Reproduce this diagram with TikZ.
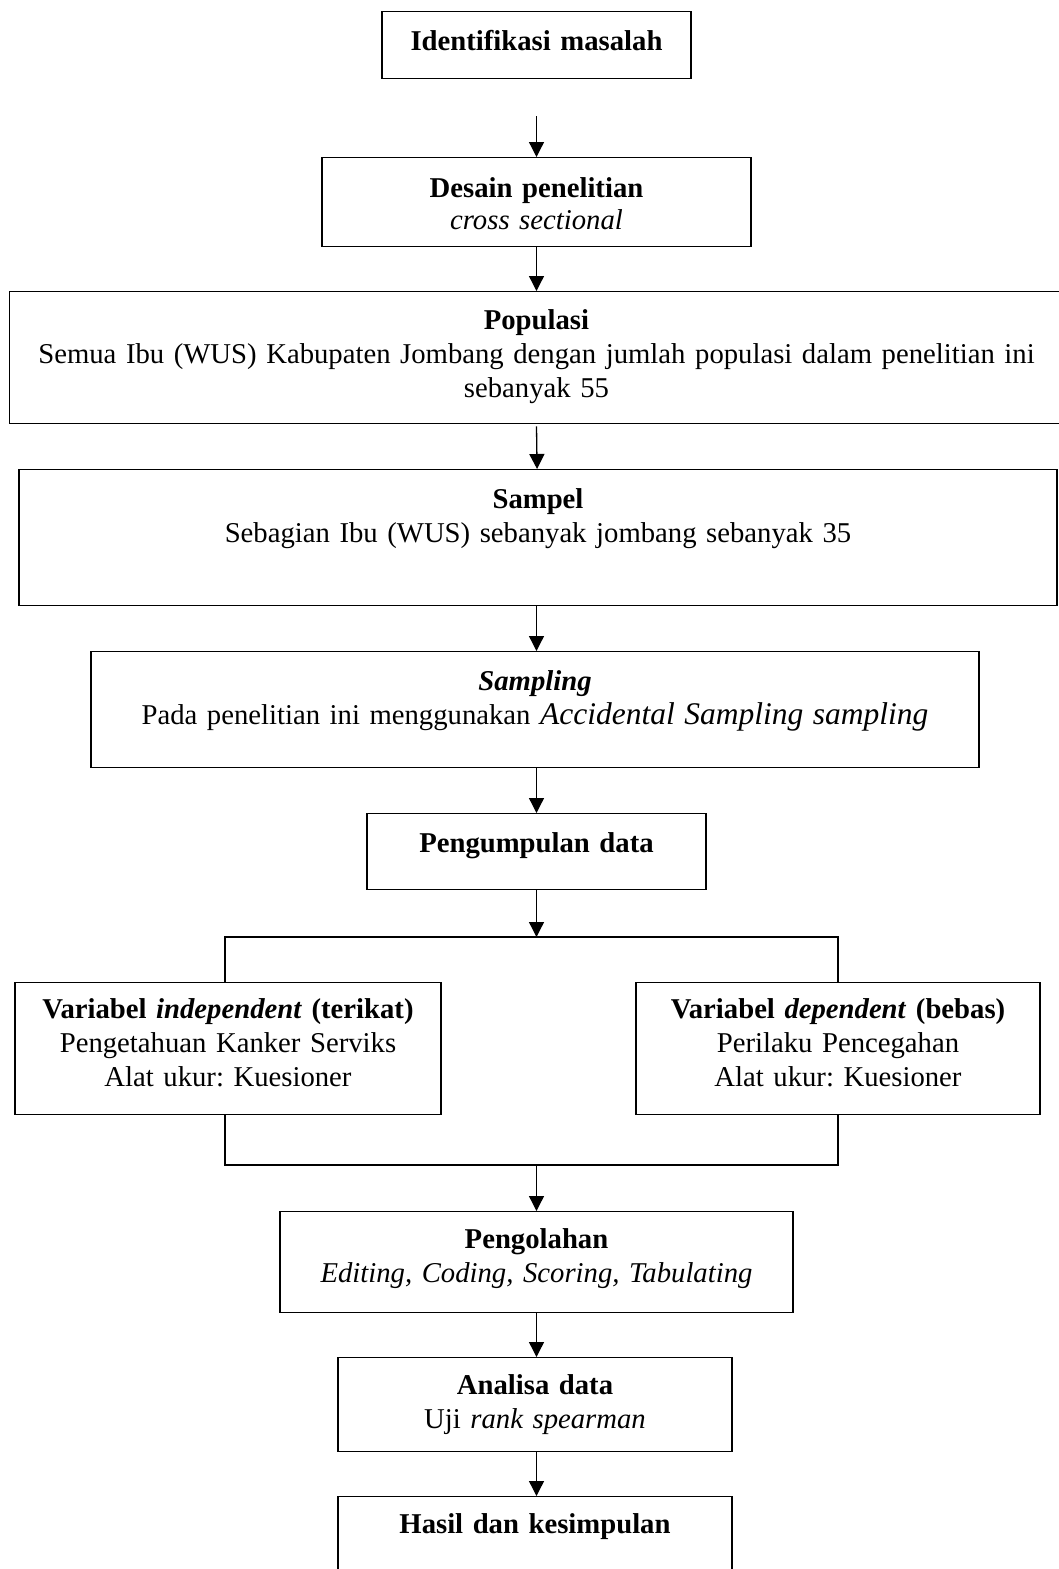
\documentclass[tikz,border=0pt]{standalone}
\usepackage{fontspec}
\setmainfont{Liberation Serif}
\usetikzlibrary{arrows.meta}

\newcommand{\jarakatas}[1]{\rule{0pt}{#1pt}}
\newcommand{\jarakbawah}[1]{\rule[-#1pt]{0pt}{#1pt}}
\frenchspacing

\begin{document}
\begin{tikzpicture}[x=1pt,y=-1pt,
	kotak/.style={draw, line width=1.3pt, inner sep=0pt, anchor=north,
		align=center, font=\fontsize{28.7}{34}\selectfont},
	panah/.style={line width=1.3pt, -{Triangle[length=15pt,width=15pt]}},
	garis/.style={line width=1.3pt}]
	\useasboundingbox (0,0) rectangle (1059,1569);
	\clip (0,0) rectangle (1059,1569);
	%\draw[help lines] (0,0) grid (1059,1569);
	
	\node[kotak, text width=309pt] (idm) at (536.5,11)
		{\jarakatas{39}\textbf{Identifikasi masalah}\jarakbawah{28}};
	\node[kotak, text width=429pt] (desain) at (536.5,157)
		{\jarakatas{40}\textbf{Desain penelitian}\\[-2pt]
		\textit{cross sectional}\jarakbawah{17}};
	\node[kotak, text width=1054pt] (populasi) at (536.5,291)
		{\jarakatas{38}\textbf{Populasi}\\
		Semua Ibu (WUS) Kabupaten Jombang dengan jumlah populasi dalam penelitian ini\\
		sebanyak 55\jarakbawah{26}};
	\node[kotak, text width=1038pt] (sampel) at (538,469)
		{\jarakatas{39}\textbf{Sampel}\\
		Sebagian Ibu (WUS) sebanyak jombang sebanyak 35\jarakbawah{63}};
	\node[kotak, text width=888pt] (sampling) at (535,651)
		{\jarakatas{39}\textbf{\textit{Sampling}}\\
		Pada penelitian ini menggunakan {\fontsize{31.5}{34}\selectfont\itshape Accidental Sampling sampling}\jarakbawah{43}};
	\node[kotak, text width=339pt] (kumpul) at (536.5,813)
		{\jarakatas{39}\textbf{Pengumpulan data}\jarakbawah{37}};
	
	\node[kotak, text width=426pt] (indep) at (228,982)
		{\jarakatas{36}\textbf{Variabel \textit{independent} (terikat)}\\
		Pengetahuan Kanker Serviks\\
		Alat ukur: Kuesioner\jarakbawah{28}};
	\node[kotak, text width=404pt] (dep) at (838,982)
		{\jarakatas{36}\textbf{Variabel \textit{dependent} (bebas)}\\
		Perilaku Pencegahan\\
		Alat ukur: Kuesioner\jarakbawah{28}};
	
	\node[kotak, text width=513pt] (olah) at (536.5,1211)
		{\jarakatas{37}\textbf{Pengolahan}\\
		\textit{Editing, Coding, Scoring, Tabulating}\jarakbawah{30}};
	\node[kotak, text width=394pt] (analisa) at (535,1357)
		{\jarakatas{37}\textbf{Analisa data}\\
		Uji \textit{rank spearman}\jarakbawah{23}};
	\node[kotak, text width=394pt] (hasil) at (535,1496)
		{\jarakatas{37}\textbf{Hasil dan kesimpulan}\jarakbawah{80}};
	
	\coordinate (cabang) at (536.5,937);
	\coordinate (cabangKiri) at (225,937);
	\coordinate (cabangKanan) at (838,937);
	\coordinate (gabung) at (536.5,1165);
	\coordinate (gabungKiri) at (225,1165);
	\coordinate (gabungKanan) at (838,1165);
	
	\draw[panah] ([yshift=-37pt]idm.south) -- (desain);
	\draw[panah] (desain) -- (populasi);
	\draw[panah] ([yshift=-2pt]populasi.south) -- (sampel);
	\draw[panah] (sampel.south -| kumpul) -- (sampling.north -| kumpul);
	\draw[panah] (sampling.south -| kumpul) -- (kumpul);
	\draw[panah] (kumpul) -- (cabang);
	\draw[garis] (indep.north -| cabangKiri) -- (cabangKiri) -- (cabangKanan) -- (dep.north -| cabangKanan);
	\draw[garis] (indep.south -| gabungKiri) -- (gabungKiri) -- (gabungKanan) -- (dep.south -| gabungKanan);
	\draw[panah] (gabung) -- (olah);
	\draw[panah] (olah.south -| gabung) -- (analisa.north -| gabung);
	\draw[panah] (analisa.south -| gabung) -- (hasil.north -| gabung);
\end{tikzpicture}
\end{document}
